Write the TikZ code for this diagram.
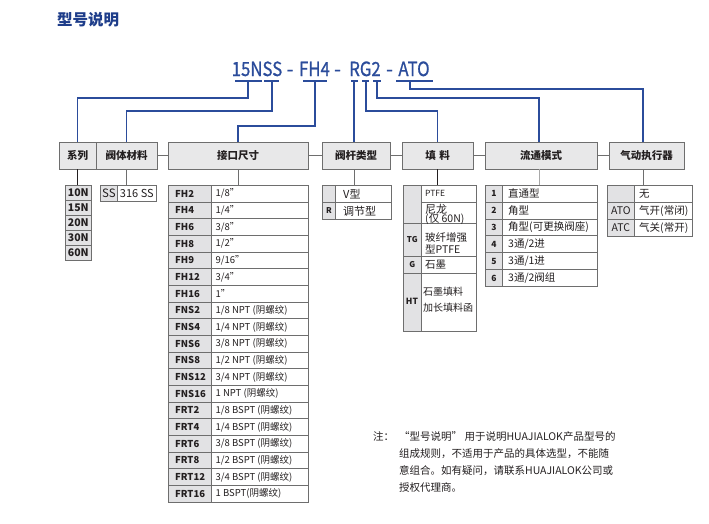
\documentclass[tikz,border=0pt]{standalone}
\usepackage{fontspec}
\usepackage{graphicx}
\setmainfont{Noto Sans CJK SC}
\newfontfamily\codefont{Noto Sans CJK SC}[FakeBold=0.9]
\usetikzlibrary{calc}
\definecolor{codeblue}{HTML}{2B4C9B}
\definecolor{titleblue}{HTML}{1E3D8A}
\definecolor{hdrfill}{HTML}{E8E8E9}
\definecolor{cellfill}{HTML}{E2E2E4}
\definecolor{frame}{HTML}{6E6E6E}
\definecolor{txt}{HTML}{231F20}
\tikzset{
 hdr/.style={draw=frame, fill=hdrfill, line width=0.8pt, minimum height=27pt, inner sep=0pt, text=txt, font=\bfseries\fontsize{10.5}{12}\selectfont},
 codecell/.style={draw=frame, fill=cellfill, line width=0.7pt, inner sep=0pt, anchor=north west},
 valcell/.style={draw=frame, fill=white, line width=0.7pt, inner sep=0pt, anchor=north west},
 ctxt/.style={inner sep=0pt, text=txt, font=\bfseries\fontsize{9.5}{10}\selectfont},
 vtxt/.style={inner sep=0pt, text=txt, font=\fontsize{9.5}{11}\selectfont, anchor=west},
 blueln/.style={draw=codeblue, line width=1.2pt},
 grayln/.style={draw=frame, line width=0.8pt},
 codetext/.style={text=codeblue, inner sep=0pt, anchor=base, font=\codefont\fontsize{19.5}{22}\selectfont},
 notetxt/.style={inner sep=0pt, anchor=west, text=txt, font=\fontsize{10.5}{12}\selectfont},
}
\begin{document}
\begin{tikzpicture}[x=1pt,y=-1pt]
\useasboundingbox (0,0) rectangle (709,523);
\fill[white] (0,0) rectangle (709,523);

% title
\node[inner sep=0pt, anchor=west, text=titleblue, font=\bfseries\fontsize{15.5}{17}\selectfont] (title) at (57,19.5) {型号说明};

% part code
\node[codetext] (p1) at (257,76) {\scalebox{0.86}[1]{15NSS}};
\node[codetext] (m1) at (290,76) {-};
\node[codetext] (p2) at (314.5,76) {\scalebox{0.86}[1]{FH4}};
\node[codetext] (m2) at (337.5,76) {-};
\node[codetext] (p3) at (365,76) {\scalebox{0.86}[1]{RG2}};
\node[codetext] (m3) at (389.5,76) {-};
\node[codetext] (p4) at (414,76) {\scalebox{0.86}[1]{ATO}};

% underline coordinates
\coordinate (u1a) at (235,81); \coordinate (u1b) at (262,81);
\coordinate (u2a) at (264,81); \coordinate (u2b) at (279,81);
\coordinate (u3a) at (303,81); \coordinate (u3b) at (327,81);
\coordinate (u4a) at (351,81); \coordinate (u4b) at (358,81);
\coordinate (u5a) at (362,81); \coordinate (u5b) at (369,81);
\coordinate (u6a) at (373,81); \coordinate (u6b) at (381,81);
\coordinate (u7a) at (396,81); \coordinate (u7b) at (433,81);
\foreach \k in {1,...,7} \draw[blueln] (u\k a) -- (u\k b);

\coordinate (d15) at (248,81);
\coordinate (dSS) at (272,81);
\coordinate (dFH) at (315,81);
\coordinate (dR) at (354,81);
\coordinate (dG) at (366,81);
\coordinate (d2) at (377,81);
\coordinate (dATO) at (410,81);

% headers
\node[hdr, minimum width=37pt] (hser) at (77.5,155.5) {系列};
\node[hdr, minimum width=61pt] (hmat) at (126.5,155.5) {阀体材料};
\node[hdr, minimum width=140pt] (hport) at (238,155.5) {接口尺寸};
\node[hdr, minimum width=68pt] (hstem) at (356,155.5) {阀杆类型};
\node[hdr, minimum width=71pt] (hpack) at (437.5,155.5) {填\,\,料};
\node[hdr, minimum width=112pt] (hflow) at (541,155.5) {流通模式};
\node[hdr, minimum width=75pt] (hact) at (646.5,155.5) {气动执行器};

\draw[grayln] (hmat.east) -- (hport.west);
\draw[grayln] (hport.east) -- (hstem.west);
\draw[grayln] (hstem.east) -- (hpack.west);
\draw[grayln] (hpack.east) -- (hflow.west);
\draw[grayln] (hflow.east) -- (hact.west);

% blue connectors
\draw[blueln] (d15) -- ++(0,17) -| (hser.north);
\draw[blueln] (dSS) -- ++(0,30) -| (hmat.north);
\draw[blueln] (dFH) -- ++(0,45) -| (hport.north);
\draw[blueln] (dR) -- (dR |- hstem.north);
\draw[blueln] (dG) -- ++(0,30) -| (hpack.north);
\draw[blueln] (d2) -- ++(0,17) -| ($(hflow.north)+(-2,0)$);
\draw[blueln] (dATO) -- ++(0,8) -| ($(hact.north)+(-3.5,0)$);

% series table
\foreach \s [count=\i from 0, evaluate=\i as \yy using 185+15*\i] in {10N,15N,20N,30N,60N}{
  \node[codecell, minimum width=26pt, minimum height=15pt] (ser\i) at (65,\yy) {};
  \node[ctxt, font=\bfseries\fontsize{10.5}{11}\selectfont] (sert\i) at (ser\i.center) {\s};
}
\draw[grayln, draw=txt] (hser.south) -- (hser.south |- ser0.north);

% material table
\node[codecell, minimum width=17pt, minimum height=16pt] (ssc) at (100,185) {};
\node[valcell, minimum width=39pt, minimum height=16pt] (ssv) at (117,185) {};
\node[inner sep=0pt, text=txt, font=\fontsize{11.5}{12}\selectfont] (ssct) at (ssc.center) {SS};
\node[inner sep=0pt, text=txt, font=\fontsize{11}{12}\selectfont] (ssvt) at (ssv.center) {316 SS};
\draw[grayln] (hmat.south) -- (hmat.south |- ssc.north);

% port table
\foreach \c/\v [count=\i from 0, evaluate=\i as \yy using 185+16.67*\i] in {FH2/{1/8"},FH4/{1/4"},FH6/{3/8"},FH8/{1/2"},FH9/{9/16"},FH12/{3/4"},FH16/{1"},FNS2/{1/8 NPT (阴螺纹)},FNS4/{1/4 NPT (阴螺纹)},FNS6/{3/8 NPT (阴螺纹)},FNS8/{1/2 NPT (阴螺纹)},FNS12/{3/4 NPT (阴螺纹)},FNS16/{1 NPT (阴螺纹)},FRT2/{1/8 BSPT (阴螺纹)},FRT4/{1/4 BSPT (阴螺纹)},FRT6/{3/8 BSPT (阴螺纹)},FRT8/{1/2 BSPT (阴螺纹)},FRT12/{3/4 BSPT (阴螺纹)},FRT16/{1 BSPT(阴螺纹)}}{
  \node[codecell, minimum width=43pt, minimum height=16.67pt] (fhc\i) at (168,\yy) {};
  \node[valcell, minimum width=97pt, minimum height=16.67pt] (fhv\i) at (211,\yy) {};
  \node[ctxt, anchor=west, xshift=7pt] (fhct\i) at (fhc\i.west) {\c};
  \node[vtxt, xshift=4.5pt] (fhvt\i) at (fhv\i.west) {\v};
}
\draw[grayln] (hport.south) -- (hport.south |- fhc0.north);

% stem table
\node[codecell, minimum width=13pt, minimum height=17pt] (stc0) at (322,185) {};
\node[valcell, minimum width=56pt, minimum height=17pt] (stv0) at (335,185) {};
\node[codecell, minimum width=13pt, minimum height=17pt] (stc1) at (322,202) {};
\node[valcell, minimum width=56pt, minimum height=17pt] (stv1) at (335,202) {};
\node[vtxt, font=\fontsize{11}{12}\selectfont, xshift=8pt] (stvt0) at (stv0.west) {V型};
\node[ctxt, font=\bfseries\fontsize{8}{9}\selectfont] (stct1) at (stc1.center) {R};
\node[vtxt, font=\fontsize{11}{12}\selectfont, xshift=8pt] (stvt1) at (stv1.west) {调节型};
\draw[grayln] (hstem.south -| dR) -- (dR |- stc0.north);

% packing table
\node[codecell, minimum width=18pt, minimum height=38pt] (pkc0) at (403,185) {};
\node[valcell, minimum width=55pt, minimum height=17pt] (pkv0) at (421,185) {};
\node[valcell, minimum width=55pt, minimum height=21pt] (pkv1) at (421,202) {};
\node[codecell, minimum width=18pt, minimum height=33pt] (pkc2) at (403,223) {};
\node[valcell, minimum width=55pt, minimum height=33pt] (pkv2) at (421,223) {};
\node[codecell, minimum width=18pt, minimum height=17pt] (pkc3) at (403,256) {};
\node[valcell, minimum width=55pt, minimum height=17pt] (pkv3) at (421,256) {};
\node[codecell, minimum width=18pt, minimum height=58pt] (pkc4) at (403,273) {};
\node[valcell, minimum width=55pt, minimum height=58pt] (pkv4) at (421,273) {};
\node[vtxt, font=\fontsize{8.5}{10}\selectfont, xshift=4pt] (pkt0) at (pkv0.west) {PTFE};
\node[vtxt, font=\fontsize{11}{12}\selectfont] (pkt1a) at (425,209) {尼龙};
\node[vtxt, font=\fontsize{10.5}{12}\selectfont] (pkt1b) at (425,219.5) {(仅 60N)};
\node[ctxt, font=\bfseries\fontsize{8}{9}\selectfont] (pkct2) at (pkc2.center) {TG};
\node[vtxt, font=\fontsize{10.5}{12}\selectfont] (pkt2a) at (425,238) {玻纤增强};
\node[vtxt, font=\fontsize{10.5}{12}\selectfont] (pkt2b) at (425,249.5) {型PTFE};
\node[ctxt, font=\bfseries\fontsize{8}{9}\selectfont] (pkct3) at (pkc3.center) {G};
\node[vtxt, font=\fontsize{10.5}{12}\selectfont, xshift=4pt] (pkt3) at (pkv3.west) {石墨};
\node[ctxt, font=\bfseries\fontsize{8.5}{9}\selectfont] (pkct4) at (412,301) {HT};
\node[vtxt, font=\fontsize{10}{12}\selectfont] (pkt4a) at (423,292) {石墨填料};
\node[vtxt, font=\fontsize{10}{12}\selectfont] (pkt4b) at (423,308) {加长填料函};
\draw[grayln, draw=txt] (hpack.south) -- (hpack.south |- pkc0.north);

% flow table
\coordinate (xflow) at ($(hflow.south)+(-2,0)$);
\foreach \c/\v [count=\i from 0, evaluate=\i as \yy using 185+16.83*\i] in {1/直通型,2/角型,3/{角型(可更换阀座)},4/{3通/2进},5/{3通/1进},6/{3通/2阀组}}{
  \node[codecell, minimum width=17pt, minimum height=16.83pt] (flc\i) at (485,\yy) {};
  \node[valcell, minimum width=95pt, minimum height=16.83pt] (flv\i) at (502,\yy) {};
  \node[ctxt, font=\bfseries\fontsize{8.5}{9}\selectfont] (flct\i) at (flc\i.center) {\c};
  \node[vtxt, font=\fontsize{10.5}{12}\selectfont, xshift=6pt] (flvt\i) at (flv\i.west) {\v};
}
\draw[grayln, draw=frame!60] (xflow) -- (xflow |- flc0.north);

% actuator table
\coordinate (xact) at ($(hact.south)+(-3.5,0)$);
\foreach \c/\v [count=\i from 0, evaluate=\i as \yy using 185+17*\i] in {{}/无,ATO/{气开(常闭)},ATC/{气关(常开)}}{
  \node[codecell, minimum width=27pt, minimum height=17pt] (acc\i) at (607,\yy) {};
  \node[valcell, minimum width=58pt, minimum height=17pt] (acv\i) at (634,\yy) {};
  \node[inner sep=0pt, text=txt, font=\fontsize{10.5}{12}\selectfont] (acct\i) at (acc\i.center) {\c};
  \node[vtxt, font=\fontsize{10.5}{12}\selectfont, xshift=5pt] (acvt\i) at (acv\i.west) {\v};
}
\draw[grayln] (xact) -- (xact |- acc0.north);

% note
\node[notetxt] (n0) at (373,436) {注：};
\node[notetxt] (n1) at (399,436) {“型号说明” 用于说明HUAJIALOK产品型号的};
\node[notetxt] (n2) at (399,454) {组成规则，不适用于产品的具体选型，不能随};
\node[notetxt] (n3) at (399,471) {意组合。如有疑问，请联系HUAJIALOK公司或};
\node[notetxt] (n4) at (399,488) {授权代理商。};
\end{tikzpicture}
\end{document}
